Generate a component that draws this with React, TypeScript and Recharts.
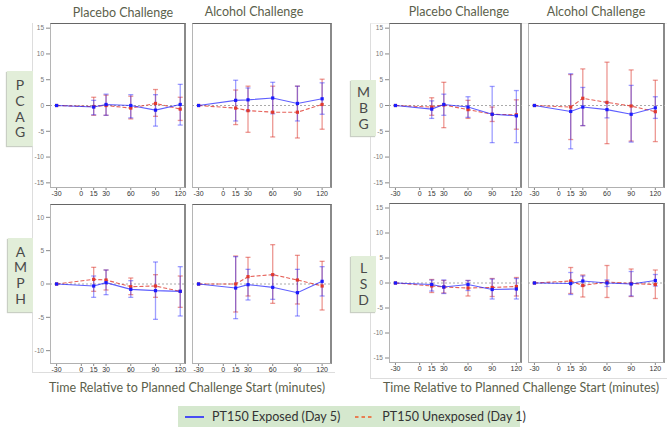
import { LineChart, Line, XAxis, YAxis, ErrorBar, ReferenceLine } from 'recharts';

// sample times (minutes relative to challenge start); 0 is a tick only
const TIMES = [-30, 15, 30, 60, 90, 120];
const X_TICKS = [-30, 0, 15, 30, 60, 90, 120];
const Y_TICKS_15 = [-15, -10, -5, 0, 5, 10, 15];
const Y_TICKS_10 = [-10, -5, 0, 5, 10];

type CI = [number, number] | null;

// PCAG
const PCAG_PLA_EXP = [0, -0.3, 0.2, 0.0, -0.9, 0.2];
const PCAG_PLA_EXP_CI: CI[] = [null, [-1.8, 1.0], [-1.9, 2.2], [-2.4, 2.1], [-4.0, 2.1], [-3.8, 4.1]];
const PCAG_PLA_UNEXP = [0, -0.2, 0.0, -0.5, 0.4, -0.7];
const PCAG_PLA_UNEXP_CI: CI[] = [null, [-1.9, 1.6], [-1.9, 2.0], [-2.6, 1.8], [-2.1, 3.1], [-2.9, 1.6]];
const PCAG_ALC_EXP = [0, 1.0, 1.1, 1.45, 0.4, 1.3];
const PCAG_ALC_EXP_CI: CI[] = [null, [-3.0, 4.9], [-1.05, 3.4], [-1.6, 4.5], [-3.0, 3.75], [-1.7, 4.4]];
const PCAG_ALC_UNEXP = [0, -0.5, -1.0, -1.3, -1.3, 0.2];
const PCAG_ALC_UNEXP_CI: CI[] = [null, [-3.7, 3.0], [-5.2, 3.75], [-6.1, 3.75], [-6.3, 3.75], [-4.6, 5.1]];

// AMPH
const AMPH_PLA_EXP = [0, -0.3, 0.2, -0.8, -1.0, -1.1];
const AMPH_PLA_EXP_CI: CI[] = [null, [-2.0, 1.2], [-1.6, 2.1], [-2.0, 0.5], [-5.3, 3.3], [-4.8, 2.6]];
const AMPH_PLA_UNEXP = [0, 0.7, 0.6, -0.4, -0.3, -1.1];
const AMPH_PLA_UNEXP_CI: CI[] = [null, [-1.1, 2.5], [-0.9, 2.1], [-1.6, 0.9], [-2.0, 1.4], [-3.5, 1.2]];
const AMPH_ALC_EXP = [0, -0.6, -0.1, -0.5, -1.3, 0.4];
const AMPH_ALC_EXP_CI: CI[] = [null, [-5.2, 4.1], [-2.4, 2.2], [-2.3, 1.4], [-4.8, 2.2], [-1.8, 2.6]];
const AMPH_ALC_UNEXP = [0, 0.0, 1.1, 1.4, 0.6, -0.3];
const AMPH_ALC_UNEXP_CI: CI[] = [null, [-4.2, 4.2], [-1.8, 4.0], [-2.9, 5.9], [-3.0, 4.3], [-3.9, 3.4]];

// MBG
const MBG_PLA_EXP = [0, -0.7, 0.2, -0.3, -1.7, -2.0];
const MBG_PLA_EXP_CI: CI[] = [null, [-2.5, 0.9], [-1.9, 2.2], [-2.3, 1.7], [-7.2, 3.7], [-7.2, 2.9]];
const MBG_PLA_UNEXP = [0, -0.3, 0.1, -0.8, -1.7, -1.8];
const MBG_PLA_UNEXP_CI: CI[] = [null, [-1.9, 1.5], [-4.3, 4.5], [-2.5, 1.0], [-3.1, -0.3], [-4.6, 1.1]];
const MBG_ALC_EXP = [0, -1.15, -0.3, -0.8, -1.7, -0.45];
const MBG_ALC_EXP_CI: CI[] = [null, [-8.4, 6.15], [-3.9, 3.5], [-2.4, 0.6], [-7.1, 3.9], [-2.5, 1.7]];
const MBG_ALC_UNEXP = [0, -0.3, 1.4, 0.6, -0.1, -1.2];
const MBG_ALC_UNEXP_CI: CI[] = [null, [-6.6, 6.0], [-3.9, 7.1], [-7.4, 8.4], [-6.9, 6.9], [-7.0, 4.9]];

// LSD
const LSD_PLA_EXP = [0, -0.3, -0.8, -0.3, -1.3, -1.2];
const LSD_PLA_EXP_CI: CI[] = [null, [-1.6, 0.6], [-2.1, 0.6], [-1.5, 0.5], [-3.2, 0.8], [-3.2, 0.9]];
const LSD_PLA_UNEXP = [0, -0.6, -0.8, -1.0, -0.9, -0.7];
const LSD_PLA_UNEXP_CI: CI[] = [null, [-1.9, 0.7], [-2.0, 0.5], [-2.6, 0.5], [-2.7, 0.9], [-2.6, 1.1]];
const LSD_ALC_EXP = [0, -0.1, 0.4, 0.0, -0.2, 0.5];
const LSD_ALC_EXP_CI: CI[] = [null, [-2.3, 2.1], [-0.6, 1.4], [-0.7, 0.6], [-2.6, 2.3], [-0.6, 1.7]];
const LSD_ALC_UNEXP = [0, 0.4, -0.5, 0.2, -0.1, -0.3];
const LSD_ALC_UNEXP_CI: CI[] = [null, [-2.1, 3.1], [-2.8, 1.6], [-2.9, 3.5], [-2.7, 2.8], [-3.1, 2.6]];

const BLUE = '#1a1aff';
const RED = '#e0392f';
const TITLE = '#5c5f4c';
const FONT = 'Lato, "Open Sans", sans-serif';

const toRows = (exp: number[], expCi: CI[], unexp: number[], unexpCi: CI[]) =>
  TIMES.map((t, i) => ({
    t,
    exp: exp[i],
    expErr: expCi[i] ? [exp[i] - expCi[i]![0], expCi[i]![1] - exp[i]] : null,
    unexp: unexp[i],
    unexpErr: unexpCi[i] ? [unexp[i] - unexpCi[i]![0], unexpCi[i]![1] - unexp[i]] : null,
  }));

const squareDot = (color: string) => (p: any) => (
  <rect key={`d-${p.index}`} x={p.cx - 1.6} y={p.cy - 1.6} width={3.2} height={3.2} fill={color} />
);

interface PanelProps {
  left: number;
  top: number;
  w: number;
  h: number;
  yMax: number;
  yTicks: number[];
  showY: boolean;
  xMax: number;
  rows: ReturnType<typeof toRows>;
}

function Panel({ left, top, w, h, yMax, yTicks, showY, xMax, rows }: PanelProps) {
  const yw = showY ? 26 : 0;
  return (
    <>
      <div
        style={{
          position: 'absolute', left, top, width: w, height: h, boxSizing: 'border-box',
          borderTop: '1.5px solid #666', borderRight: '2px solid #8a8a8a',
          borderLeft: '1px solid #b5b5b5', borderBottom: '1px solid #b0b0b0',
        }}
      />
      <div style={{ position: 'absolute', left: left - yw, top: top - 2 }}>
        <LineChart width={yw + w + 3} height={h + 16} data={rows} margin={{ top: 2, right: 3, left: 0, bottom: 0 }}>
          <XAxis
            dataKey="t" type="number" domain={[-38, xMax]} ticks={X_TICKS} interval={0}
            axisLine={false} tickSize={2} tickMargin={1} height={14}
            tick={{ fontSize: 7, fill: '#333', fontFamily: 'Arial' }} stroke="#888"
          />
          <YAxis
            type="number" domain={[-yMax, yMax]} ticks={yTicks} interval={0} hide={!showY}
            width={yw} axisLine={false} tickSize={4} tickMargin={2}
            tick={{ fontSize: 6.5, fill: '#777', fontFamily: 'Arial' }} stroke="#888"
          />
          <ReferenceLine y={0} stroke="#aaa" strokeDasharray="2 2" />
          <Line
            dataKey="unexp" stroke={RED} strokeOpacity={0.8} strokeWidth={1.1} strokeDasharray="4 2"
            dot={squareDot(RED)} activeDot={false} isAnimationActive={false}
          >
            <ErrorBar dataKey="unexpErr" width={2.5} stroke="rgba(220,50,40,0.5)" strokeWidth={1.3} direction="y" isAnimationActive={false} />
          </Line>
          <Line
            dataKey="exp" stroke={BLUE} strokeOpacity={0.7} strokeWidth={1.1}
            dot={squareDot(BLUE)} activeDot={false} isAnimationActive={false}
          >
            <ErrorBar dataKey="expErr" width={2.5} stroke="rgba(40,40,255,0.45)" strokeWidth={1.3} direction="y" isAnimationActive={false} />
          </Line>
        </LineChart>
      </div>
    </>
  );
}

function RowLabel({ left, top, w, h, text }: { left: number; top: number; w: number; h: number; text: string }) {
  return (
    <div
      style={{
        position: 'absolute', left, top, width: w, height: h, background: '#e2eed9',
        boxShadow: '-1px 1px 1px #c9cfc4', display: 'flex', flexDirection: 'column',
        alignItems: 'center', justifyContent: 'center', fontFamily: FONT, fontSize: 14,
        lineHeight: '15.7px', color: '#4a4a4a',
      }}
    >
      {text.split('').map((c, i) => <span key={i}>{c}</span>)}
    </div>
  );
}

function Title({ cx, top, text, size = 12.5 }: { cx: number; top: number; text: string; size?: number }) {
  return (
    <div
      style={{
        position: 'absolute', left: cx - 160, width: 320, top, textAlign: 'center',
        fontFamily: FONT, fontSize: size, color: TITLE, whiteSpace: 'nowrap',
      }}
    >
      {text}
    </div>
  );
}

export default function App() {
  return (
    <div style={{ position: 'absolute', left: 0, top: 0, width: 671, height: 428, background: '#fff', overflow: 'hidden' }}>
      {/* group frames */}
      <div style={{ position: 'absolute', left: 32, top: 23, width: 302, height: 349, borderLeft: '1px solid #ddd', borderBottom: '1px solid #ddd' }} />
      <div style={{ position: 'absolute', left: 370, top: 23, width: 296, height: 354, borderLeft: '1px solid #ddd', borderBottom: '1px solid #ddd', borderTop: '1px solid #eee' }} />

      <Title cx={123} top={5} text="Placebo Challenge" />
      <Title cx={254} top={4} text="Alcohol Challenge" />
      <Title cx={459} top={4} text="Placebo Challenge" />
      <Title cx={596} top={4} text="Alcohol Challenge" />

      <RowLabel left={7} top={71} w={26} h={75} text="PCAG" />
      <RowLabel left={8} top={238} w={25} h={74} text="AMPH" />
      <RowLabel left={351} top={80} w={25} h={56} text="MBG" />
      <RowLabel left={351} top={256} w={25} h={56} text="LSD" />

      <Panel left={50} top={23} w={136} h={165} yMax={16} yTicks={Y_TICKS_15} showY xMax={127}
        rows={toRows(PCAG_PLA_EXP, PCAG_PLA_EXP_CI, PCAG_PLA_UNEXP, PCAG_PLA_UNEXP_CI)} />
      <Panel left={192} top={23} w={140} h={165} yMax={16} yTicks={Y_TICKS_15} showY={false} xMax={132}
        rows={toRows(PCAG_ALC_EXP, PCAG_ALC_EXP_CI, PCAG_ALC_UNEXP, PCAG_ALC_UNEXP_CI)} />
      <Panel left={50} top={204} w={136} h={160} yMax={12} yTicks={Y_TICKS_10} showY xMax={127}
        rows={toRows(AMPH_PLA_EXP, AMPH_PLA_EXP_CI, AMPH_PLA_UNEXP, AMPH_PLA_UNEXP_CI)} />
      <Panel left={192} top={204} w={140} h={160} yMax={12} yTicks={Y_TICKS_10} showY={false} xMax={132}
        rows={toRows(AMPH_ALC_EXP, AMPH_ALC_EXP_CI, AMPH_ALC_UNEXP, AMPH_ALC_UNEXP_CI)} />

      <Panel left={389} top={23} w={133} h={165} yMax={16} yTicks={Y_TICKS_15} showY xMax={127}
        rows={toRows(MBG_PLA_EXP, MBG_PLA_EXP_CI, MBG_PLA_UNEXP, MBG_PLA_UNEXP_CI)} />
      <Panel left={528} top={23} w={137} h={165} yMax={16} yTicks={Y_TICKS_15} showY={false} xMax={132}
        rows={toRows(MBG_ALC_EXP, MBG_ALC_EXP_CI, MBG_ALC_UNEXP, MBG_ALC_UNEXP_CI)} />
      <Panel left={389} top={203} w={133} h={160} yMax={16} yTicks={Y_TICKS_15} showY xMax={127}
        rows={toRows(LSD_PLA_EXP, LSD_PLA_EXP_CI, LSD_PLA_UNEXP, LSD_PLA_UNEXP_CI)} />
      <Panel left={528} top={203} w={137} h={160} yMax={16} yTicks={Y_TICKS_15} showY={false} xMax={132}
        rows={toRows(LSD_ALC_EXP, LSD_ALC_EXP_CI, LSD_ALC_UNEXP, LSD_ALC_UNEXP_CI)} />

      <Title cx={187} top={380} text="Time Relative to Planned Challenge Start (minutes)" size={12.5} />
      <Title cx={521} top={380} text="Time Relative to Planned Challenge Start (minutes)" size={12.5} />

      {/* legend */}
      <div
        style={{
          position: 'absolute', left: 178, top: 406, width: 342, height: 21, background: '#d5e8ce',
          display: 'flex', alignItems: 'center', fontFamily: FONT, fontSize: 12.5, color: '#333',
          whiteSpace: 'nowrap',
        }}
      >
        <svg width={20} height={6} style={{ marginLeft: 7, marginRight: 7, flexShrink: 0 }}>
          <line x1={0} y1={3} x2={19} y2={3} stroke={BLUE} strokeWidth={1.5} />
        </svg>
        <span style={{ flexShrink: 0 }}>PT150 Exposed (Day 5)</span>
        <svg width={20} height={6} style={{ marginLeft: 15, marginRight: 7, flexShrink: 0 }}>
          <line x1={0} y1={3} x2={19} y2={3} stroke="#f05a28" strokeWidth={1.5} strokeDasharray="3.5 3" />
        </svg>
        <span style={{ flexShrink: 0 }}>PT150 Unexposed (Day 1)</span>
      </div>
    </div>
  );
}
